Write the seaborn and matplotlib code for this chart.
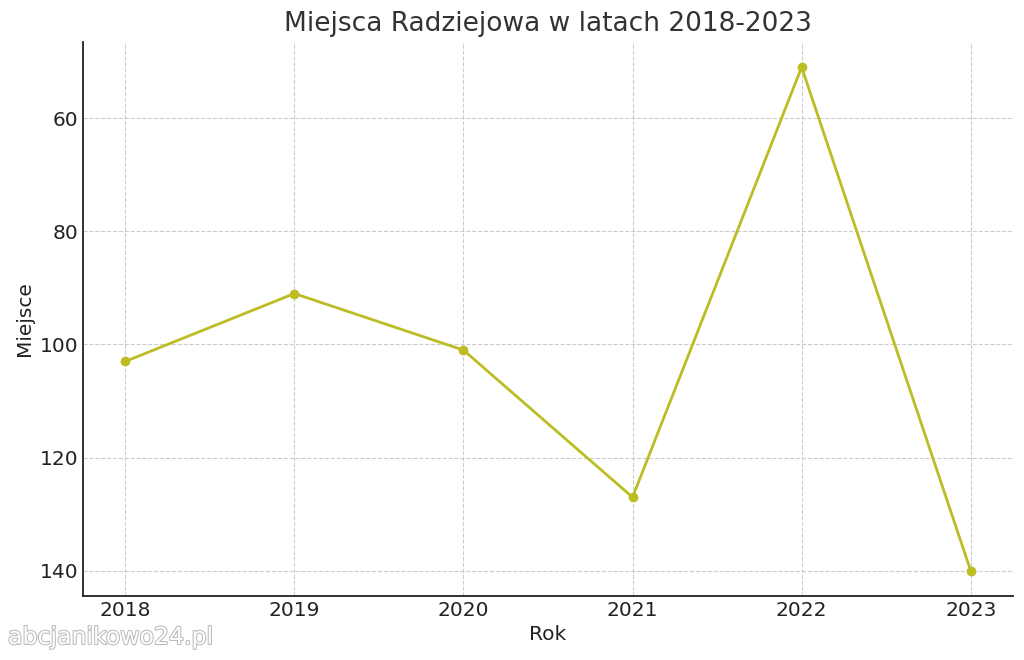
import matplotlib
matplotlib.use("Agg")
import matplotlib.pyplot as plt
import matplotlib.patheffects as pe
import seaborn as sns
import pandas as pd

years = [2018, 2019, 2020, 2021, 2022, 2023]
places = [103, 91, 101, 127, 51, 140]

df = pd.DataFrame({"Rok": years, "Miejsce": places})

sns.set_style("white")
plt.rcParams['font.family'] = ['DejaVu Sans']

fig = plt.figure(figsize=(10.24, 6.6), dpi=100)
ax = fig.add_axes([83/1024, 1 - 596/660, (1013-83)/1024, (596-42)/660])

sns.lineplot(data=df, x="Rok", y="Miejsce", ax=ax, color="#bcbd22",
             marker="o", markersize=7, markeredgewidth=0, linewidth=2)

ax.invert_yaxis()
ax.set_xticks(years)
ax.set_xticklabels([str(y) for y in years])
ax.grid(True, linestyle="--", color="#cccccc", linewidth=0.8)
ax.tick_params(direction="in", labelsize=14.5, length=5, colors="#222222", labelcolor="#222222")
for s in ["top", "right"]:
    ax.spines[s].set_visible(False)
for s in ["left", "bottom"]:
    ax.spines[s].set_color("#222222")
    ax.spines[s].set_linewidth(1.3)
ax.set_xlabel("Rok", fontsize=14.5, color="#222222")
ax.set_ylabel("Miejsce", fontsize=14.5, color="#222222")
ax.set_title("Miejsca Radziejowa w latach 2018-2023", fontsize=19, color="#333333", pad=8)

fig.text(8/1024, 1 - 637/660, "abcjanikowo24.pl", fontsize=17, color="white",
         va="center", ha="left",
         path_effects=[pe.withStroke(linewidth=1.5, foreground="#bbbbbb")])

fig.savefig("out.png", dpi=100)
